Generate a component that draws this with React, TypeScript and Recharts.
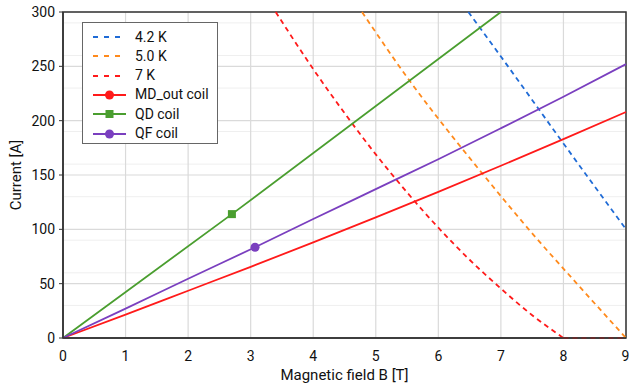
import React from 'react';
import { LineChart, Line, XAxis, YAxis, CartesianGrid, ReferenceArea } from 'recharts';

// Critical current curves (dashed)
const curve42K = [
  { x: 6.48, y: 300 },
  { x: 7, y: 259 },
  { x: 8, y: 179 },
  { x: 9, y: 100 },
];
const curve50K = [
  { x: 4.78, y: 300 },
  { x: 5.55, y: 236 },
  { x: 6.3, y: 180 },
  { x: 6.68, y: 153 },
  { x: 7.55, y: 93 },
  { x: 8.2, y: 51 },
  { x: 9, y: 0 },
];
const curve7K = [
  { x: 3.4, y: 300 },
  { x: 4, y: 247.5 },
  { x: 4.5, y: 207 },
  { x: 5, y: 169 },
  { x: 5.5, y: 134 },
  { x: 6, y: 101.5 },
  { x: 6.5, y: 72 },
  { x: 7, y: 45.5 },
  { x: 7.5, y: 21 },
  { x: 8, y: 0 },
];
const curve7KFloor = [
  { x: 8, y: 0 },
  { x: 9, y: 0 },
];

// Load lines (solid)
const mdOut = [
  { x: 0, y: 0 },
  { x: 1, y: 21.5 },
  { x: 2, y: 43.5 },
  { x: 3, y: 65.5 },
  { x: 4, y: 88 },
  { x: 5, y: 111 },
  { x: 6, y: 134.5 },
  { x: 7, y: 158.5 },
  { x: 8, y: 183 },
  { x: 9, y: 208 },
];
const qdCoil = [
  { x: 0, y: 0 },
  { x: 2.7, y: 114, m: true },
  { x: 7, y: 300 },
];
const qfCoil = [
  { x: 0, y: 0 },
  { x: 1, y: 27 },
  { x: 2, y: 54.5 },
  { x: 3.07, y: 83.5, m: true },
  { x: 4, y: 109.5 },
  { x: 5, y: 137 },
  { x: 6, y: 164.5 },
  { x: 7, y: 193 },
  { x: 8, y: 222 },
  { x: 9, y: 252 },
];

const xTicks = [0, 1, 2, 3, 4, 5, 6, 7, 8, 9];
const yTicks = [0, 50, 100, 150, 200, 250, 300];
const yMinor = [10, 20, 30, 40, 60, 70, 80, 90, 110, 120, 130, 140, 160, 170, 180, 190, 210, 220, 230, 240, 260, 270, 280, 290];

const BLUE = '#1f6bd6';
const ORANGE = '#ff8a1c';
const RED = '#ff1a1a';
const GREEN = '#4a9e2f';
const PURPLE = '#7a3fbf';

const legendItems = [
  { name: '4.2 K', color: BLUE, dashed: true, marker: null },
  { name: '5.0 K', color: ORANGE, dashed: true, marker: null },
  { name: '7 K', color: RED, dashed: true, marker: null },
  { name: 'MD_out coil', color: RED, dashed: false, marker: 'circle' },
  { name: 'QD coil', color: GREEN, dashed: false, marker: 'square' },
  { name: 'QF coil', color: PURPLE, dashed: false, marker: 'circle' },
];

const FONT = 'Roboto, "DejaVu Sans", sans-serif';

const squareDot = (color: string) => (props: any) => {
  const { cx, cy, payload, index } = props;
  if (!payload || !payload.m) return <g key={`s${index}`} />;
  return <rect key={`s${index}`} x={cx - 4} y={cy - 4} width={8} height={8} fill={color} />;
};
const circleDot = (color: string) => (props: any) => {
  const { cx, cy, payload, index } = props;
  if (!payload || !payload.m) return <g key={`c${index}`} />;
  return <circle key={`c${index}`} cx={cx} cy={cy} r={4.5} fill={color} />;
};

function LegendBox() {
  return (
    <div
      style={{
        position: 'absolute',
        left: 82,
        top: 22,
        width: 136,
        height: 122,
        border: '1px solid #666',
        background: '#fff',
        boxSizing: 'border-box',
        fontFamily: FONT,
        fontSize: 14,
        color: '#111',
      }}
    >
      {legendItems.map((it, i) => (
        <div key={it.name} style={{ position: 'absolute', left: 9, top: 4.5 + i * 19.3, height: 19, display: 'flex', alignItems: 'center' }}>
          <svg width={36} height={14} style={{ display: 'block' }}>
            <line x1={1} y1={7} x2={34} y2={7} stroke={it.color} strokeWidth={2} strokeDasharray={it.dashed ? '5 6' : undefined} />
            {it.marker === 'circle' && <circle cx={17.5} cy={7} r={4.5} fill={it.color} />}
            {it.marker === 'square' && <rect x={13.5} y={3} width={8} height={8} fill={it.color} />}
          </svg>
          <span style={{ marginLeft: 7, lineHeight: '19px' }}>{it.name}</span>
        </div>
      ))}
    </div>
  );
}

export default function App() {
  return (
    <div style={{ position: 'absolute', left: 0, top: 0, width: 629, height: 389, background: '#fff' }}>
      <LineChart width={629} height={389} margin={{ top: 12, right: 3, left: 0, bottom: 0 }}>
        <CartesianGrid horizontal={true} vertical={false} horizontalValues={yMinor} stroke="#efefef" strokeWidth={1} />
        <CartesianGrid horizontal={true} vertical={true} horizontalValues={yTicks} verticalValues={xTicks} stroke="#dadada" strokeWidth={1.2} />
        <XAxis
          type="number"
          dataKey="x"
          domain={[0, 9]}
          ticks={xTicks}
          allowDuplicatedCategory={false}
          height={51}
          tickLine={false}
          tickMargin={7}
          axisLine={{ stroke: '#333', strokeWidth: 1.5 }}
          tick={{ fill: '#111', fontSize: 14, fontFamily: FONT }}
          label={{ value: 'Magnetic field B [T]', position: 'insideBottom', offset: 9, style: { fill: '#111', fontSize: 15, fontFamily: FONT } }}
        />
        <YAxis
          type="number"
          domain={[0, 300]}
          ticks={yTicks}
          width={63}
          tickSize={4}
          tickMargin={4}
          tickLine={{ stroke: '#333' }}
          axisLine={{ stroke: '#333', strokeWidth: 1.5 }}
          tick={{ fill: '#111', fontSize: 14, fontFamily: FONT }}
          label={{ value: 'Current [A]', angle: -90, position: 'insideLeft', offset: 16, style: { textAnchor: 'middle', fill: '#111', fontSize: 15, fontFamily: FONT } }}
        />
        <ReferenceArea x1={0} x2={9} y1={0} y2={300} fill="none" fillOpacity={0} stroke="#333" strokeWidth={1.5} ifOverflow="visible" />
        <Line data={curve42K} dataKey="y" type="monotone" stroke={BLUE} strokeWidth={1.8} strokeDasharray="5 4" dot={false} isAnimationActive={false} />
        <Line data={curve50K} dataKey="y" type="monotone" stroke={ORANGE} strokeWidth={1.8} strokeDasharray="5 4" dot={false} isAnimationActive={false} />
        <Line data={curve7K} dataKey="y" type="monotone" stroke={RED} strokeWidth={1.8} strokeDasharray="5 4" dot={false} isAnimationActive={false} />
        <Line data={curve7KFloor} dataKey="y" type="linear" stroke={RED} strokeWidth={1.8} strokeDasharray="5 4" dot={false} isAnimationActive={false} />
        <Line data={mdOut} dataKey="y" type="monotone" stroke={RED} strokeWidth={1.8} dot={false} isAnimationActive={false} />
        <Line data={qdCoil} dataKey="y" type="linear" stroke={GREEN} strokeWidth={1.8} dot={squareDot(GREEN)} isAnimationActive={false} />
        <Line data={qfCoil} dataKey="y" type="monotone" stroke={PURPLE} strokeWidth={1.8} dot={circleDot(PURPLE)} isAnimationActive={false} />
      </LineChart>
      <LegendBox />
    </div>
  );
}
